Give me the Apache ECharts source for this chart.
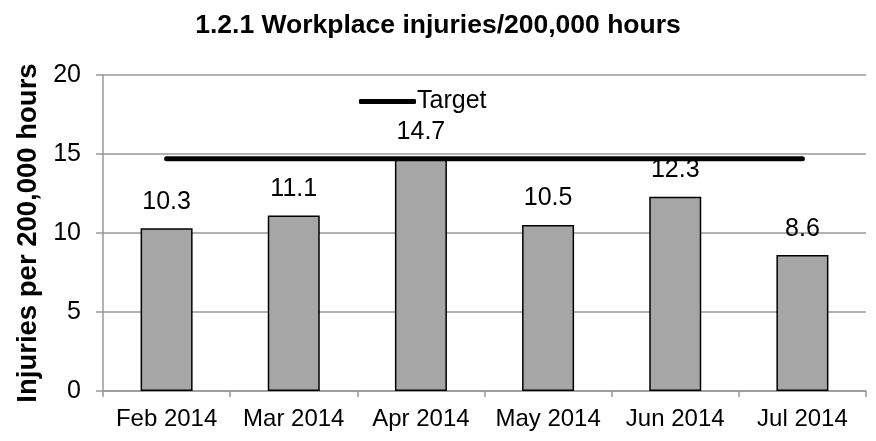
<!DOCTYPE html>
<html lang="en">
<head>
  <meta charset="UTF-8">
  <title>Workplace injuries</title>
  <script src="https://cdn.jsdelivr.net/npm/echarts@6/dist/echarts.min.js"></script>
  <style>
    html, body { margin: 0; padding: 0; background: #fff; }
  </style>
</head>
<body>
  <div id="chart" style="width:876px;height:441px;"></div>
  <script>
    var months = ['Feb 2014', 'Mar 2014', 'Apr 2014', 'May 2014', 'Jun 2014', 'Jul 2014'];
    var injuries = [10.3, 11.1, 14.7, 10.5, 12.3, 8.6];
    var target = [14.7, 14.7, 14.7, 14.7, 14.7, 14.7];

    var myChart = echarts.init(document.getElementById('chart'));
    var font = 'Liberation Sans, Arial, sans-serif';

    var options = {
      animation: false,
      textStyle: {fontFamily: font},
      title: {
        text: '1.2.1 Workplace injuries/200,000 hours',
        left: 'center',
        top: 7,
        textStyle: {fontSize: 26.5, fontWeight: 'bold', color: '#000', fontFamily: font}
      },
      legend: {
        left: 354,
        top: 84,
        itemWidth: 57,
        itemHeight: 5,
        itemGap: 4,
        textStyle: {fontSize: 25, color: '#000', fontFamily: font, padding: [0, 0, 0, -4]},
        data: [{name: 'Target', icon: 'roundRect'}]
      },
      grid: {left: 103, right: 10, top: 75, bottom: 50},
      xAxis: {
        type: 'category',
        data: months,
        axisLine: {lineStyle: {color: '#999', width: 1.5}},
        axisTick: {show: true, length: 6, lineStyle: {color: '#999', width: 1.5}},
        axisLabel: {interval: 0, fontSize: 24, color: '#000', margin: 16}
      },
      yAxis: {
        type: 'value',
        min: 0,
        max: 20,
        interval: 5,
        name: 'Injuries per 200,000 hours',
        nameLocation: 'middle',
        nameGap: 56,
        nameTextStyle: {fontSize: 27.5, fontWeight: 'bold', color: '#000'},
        axisLine: {show: true, lineStyle: {color: '#999', width: 1.5}},
        axisTick: {show: true, length: 7, lineStyle: {color: '#999', width: 1.5}},
        axisLabel: {fontSize: 25, color: '#000', margin: 22},
        splitLine: {lineStyle: {color: '#999', width: 1.5}}
      },
      series: [
        {
          name: 'Injuries',
          type: 'bar',
          data: injuries,
          barWidth: 52,
          itemStyle: {color: '#a6a6a6', borderColor: '#000', borderWidth: 1.5},
          label: {show: true, position: 'top', distance: 14, fontSize: 25, color: '#000'},
          z: 2
        },
        {
          name: 'Target',
          type: 'line',
          data: target,
          symbol: 'none',
          lineStyle: {color: '#000', width: 5, cap: 'round'},
          itemStyle: {color: '#000'},
          z: 3
        }
      ]
    };

    myChart.setOption(options);
  </script>
</body>
</html>
